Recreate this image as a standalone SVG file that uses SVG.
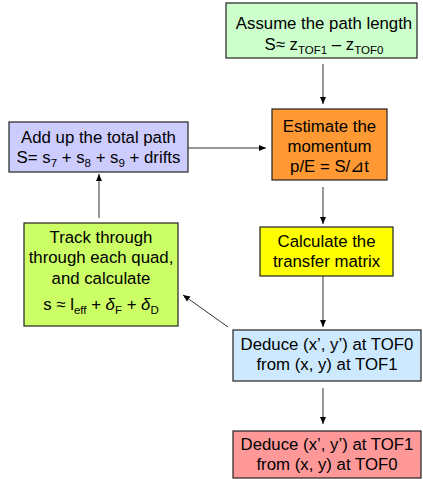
<svg xmlns="http://www.w3.org/2000/svg" width="423" height="479" viewBox="0 0 423 479">
<defs>
<marker id="ah" markerWidth="8" markerHeight="8" refX="7" refY="4" orient="auto" markerUnits="userSpaceOnUse">
<path d="M0,1 L7,4 L0,7 Z" fill="#000"/>
</marker>
<style>
.box{stroke:#222;stroke-width:1.2}
.t{font-family:"Liberation Sans",Arial,sans-serif;font-size:16.8px;fill:#000;text-anchor:middle}
.sub{font-size:11.5px}
.c{stroke:#333;stroke-width:1;fill:none;marker-end:url(#ah)}
</style>
</defs>
<rect width="423" height="479" fill="#fff"/>
<g id="assume">
<rect class="box" x="226" y="3" width="191" height="55" fill="#ccffcc"/>
<text class="t" x="324" y="29">Assume the path length</text>
<text class="t" x="324" y="50">S≈ z<tspan class="sub" dy="4">TOF1</tspan><tspan dy="-4"> – z</tspan><tspan class="sub" dy="4">TOF0</tspan></text>
</g>
<g id="estimate">
<rect class="box" x="272" y="109" width="115" height="71" fill="#ff9933"/>
<text class="t" x="329.5" y="132">Estimate the</text>
<text class="t" x="329.5" y="152">momentum</text>
<text class="t" x="329.5" y="172">p/E = S/⊿t</text>
</g>
<g id="addup">
<rect class="box" x="9" y="122" width="179" height="50" fill="#ccccff"/>
<text class="t" x="98.5" y="143">Add up the total path</text>
<text class="t" x="98.5" y="163">S= s<tspan class="sub" dy="4">7</tspan><tspan dy="-4"> + s</tspan><tspan class="sub" dy="4">8</tspan><tspan dy="-4"> + s</tspan><tspan class="sub" dy="4">9</tspan><tspan dy="-4"> + drifts</tspan></text>
</g>
<g id="track">
<rect class="box" x="24" y="223" width="154" height="103" fill="#ccff66"/>
<text class="t" x="101" y="243">Track through</text>
<text class="t" x="101" y="263">through each quad,</text>
<text class="t" x="101" y="284">and calculate</text>
<text class="t" x="101" y="310">s ≈ l<tspan class="sub" dy="4">eff</tspan><tspan dy="-4"> + </tspan><tspan font-style="italic">δ</tspan><tspan class="sub" dy="4">F</tspan><tspan dy="-4"> + </tspan><tspan font-style="italic">δ</tspan><tspan class="sub" dy="4">D</tspan></text>
</g>
<g id="calculate">
<rect class="box" x="260" y="227" width="133" height="49" fill="#ffff00"/>
<text class="t" x="326.5" y="247">Calculate the</text>
<text class="t" x="326.5" y="267">transfer matrix</text>
</g>
<g id="deduce0">
<rect class="box" x="233" y="330" width="188" height="51" fill="#cce9ff"/>
<text class="t" x="327" y="350">Deduce (x’, y’) at TOF0</text>
<text class="t" x="327" y="370">from (x, y) at TOF1</text>
</g>
<g id="deduce1">
<rect class="box" x="233" y="431" width="188" height="47" fill="#ff9999"/>
<text class="t" x="327" y="450">Deduce (x’, y’) at TOF1</text>
<text class="t" x="327" y="470">from (x, y) at TOF0</text>
</g>
<g id="connectors">
<line class="c" x1="323" y1="64" x2="323" y2="104"/>
<line class="c" x1="188" y1="148" x2="266" y2="148"/>
<line class="c" x1="323" y1="187" x2="323" y2="224"/>
<line class="c" x1="323" y1="276" x2="323" y2="327"/>
<line class="c" x1="323" y1="388" x2="323" y2="424"/>
<line class="c" x1="228" y1="327" x2="183" y2="295"/>
<line class="c" x1="99" y1="218" x2="99" y2="174"/>
</g>
</svg>
